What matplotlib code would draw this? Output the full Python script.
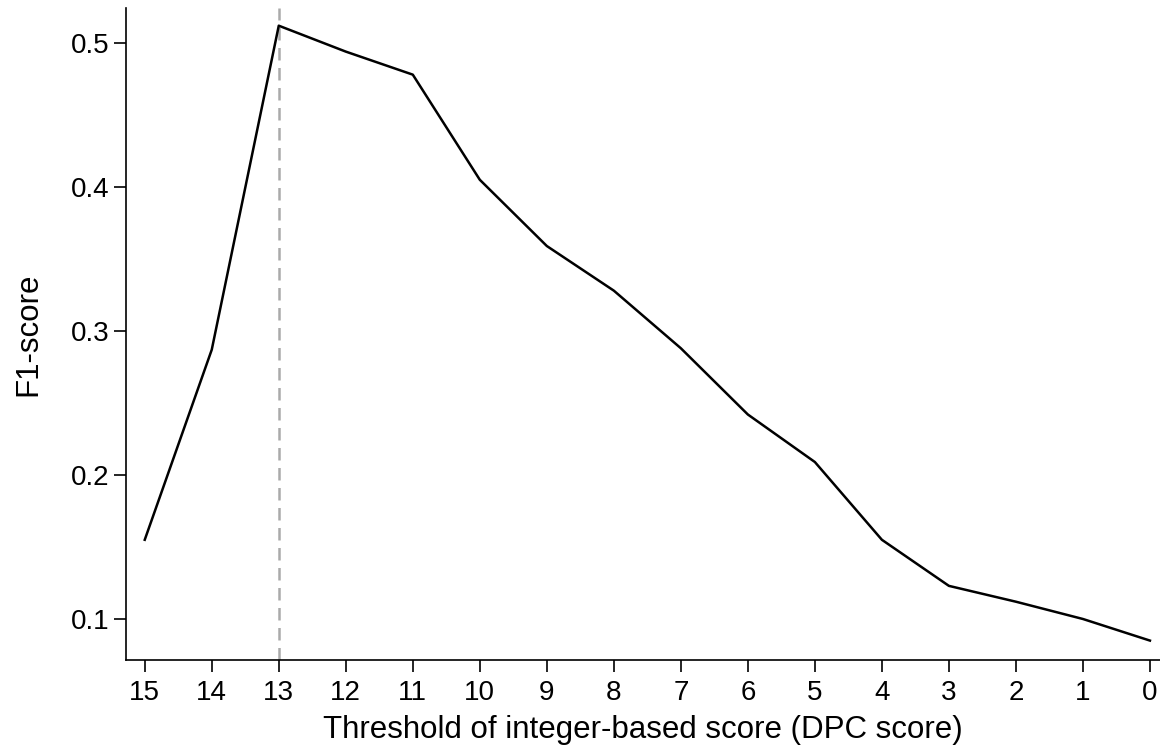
import matplotlib
matplotlib.use("Agg")
from matplotlib import pyplot as plt

plt.rcParams['font.family'] = ['Liberation Sans', 'DejaVu Sans']

thresholds = [15, 14, 13, 12, 11, 10, 9, 8, 7, 6, 5, 4, 3, 2, 1, 0]
f1 = [0.155, 0.287, 0.512, 0.494, 0.478, 0.405, 0.359, 0.328, 0.288,
      0.242, 0.209, 0.155, 0.123, 0.112, 0.100, 0.085]
best = 13

fig = plt.figure(figsize=(11.6, 7.52), dpi=100)
ax = fig.add_axes([0.1086, 0.1223, 0.8914, 0.8671])

ax.axvline(best, color="#aaaaaa", linestyle=(0, (5, 3)), linewidth=1.8, zorder=1)
ax.plot(thresholds, f1, color="black", linewidth=1.8, zorder=2)

ax.set_xlim(15.28, -0.15)
ax.set_ylim(0.0715, 0.5243)
ax.set_xticks(thresholds)
ax.set_yticks([0.1, 0.2, 0.3, 0.4, 0.5])
ax.set_yticklabels(["0.1", "0.2", "0.3", "0.4", "0.5"])

for s in ["top", "right"]:
    ax.spines[s].set_visible(False)
for s in ["left", "bottom"]:
    ax.spines[s].set_linewidth(1.2)

ax.tick_params(axis="both", labelsize=20, length=8.5, width=1.2, direction="out")
ax.tick_params(axis="x", pad=6)
ax.set_xlabel("Threshold of integer-based score (DPC score)", fontsize=22.5, labelpad=6)
ax.set_ylabel("F1-score", fontsize=22.5, labelpad=20)

fig.savefig("out.png", dpi=100)
